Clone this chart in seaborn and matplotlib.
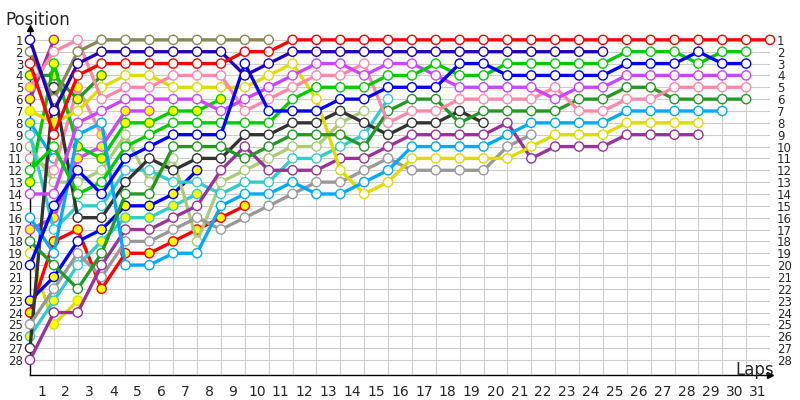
import matplotlib
matplotlib.use("Agg")
import matplotlib.pyplot as plt
import seaborn as sns
import pandas as pd

# position at the end of each lap, index 0 = starting grid
red_pos = [3, 9, 4, 3, 3, 3, 3, 3, 3, 2, 2, 1, 1, 1, 1, 1, 1, 1, 1, 1, 1, 1, 1, 1, 1, 1, 1, 1, 1, 1, 1, 1]
olive_pos = [2, 6, 2, 1, 1, 1, 1, 1, 1, 1, 1]
navy_pos = [1, 7, 3, 2, 2, 2, 2, 2, 2, 4, 3, 2, 2, 2, 2, 2, 2, 2, 2, 2, 2, 2, 2, 2, 2]
blue_pos = [20, 15, 12, 14, 11, 10, 9, 9, 9, 3, 7, 7, 7, 6, 6, 5, 5, 5, 3, 3, 4, 4, 4, 4, 4, 3, 3, 3, 2, 3, 3]
green_pos = [12, 10, 14, 13, 10, 9, 8, 8, 8, 8, 8, 6, 5, 5, 5, 4, 4, 3, 4, 4, 3, 3, 3, 3, 3, 2, 2, 2, 3, 2, 2]
violet_pos = [14, 14, 8, 7, 6, 6, 6, 6, 7, 6, 5, 4, 3, 3, 4, 3, 3, 4, 5, 5, 5, 5, 6, 5, 5, 4, 4, 4, 4, 4, 4]
pink_pos = [5, 2, 1, 6, 5, 5, 4, 4, 4, 7, 6, 5, 4, 4, 3, 8, 7, 7, 6, 6, 6, 6, 5, 7, 7, 6, 6, 5, 5, 5, 5]
dkgreen_pos = [18, 20, 22, 19, 14, 14, 10, 10, 10, 11, 10, 9, 9, 9, 10, 7, 6, 6, 8, 7, 7, 7, 7, 6, 6, 5, 5, 6, 6, 6, 6]
ltblue_pos = [16, 19, 9, 8, 20, 20, 19, 19, 15, 14, 14, 13, 14, 14, 13, 12, 10, 10, 10, 10, 9, 8, 8, 8, 8, 7, 7, 7, 7, 7]
yellow_pos = [7, 8, 7, 5, 4, 4, 5, 5, 5, 5, 4, 3, 6, 12, 14, 13, 11, 11, 11, 11, 11, 10, 9, 9, 9, 8, 8, 8, 8]
purple_pos = [28, 24, 24, 20, 17, 17, 16, 15, 12, 10, 12, 12, 12, 11, 11, 10, 9, 9, 9, 9, 8, 11, 10, 10, 10, 9, 9, 9, 9]
gray_pos = [25, 22, 19, 21, 18, 18, 17, 16, 17, 16, 15, 14, 13, 13, 12, 11, 12, 12, 12, 12, 10, 9]
dkgray_pos = [27, 5, 16, 16, 13, 11, 12, 11, 11, 9, 9, 8, 8, 7, 8, 9, 8, 8, 7, 8]
cyan_pos = [9, 17, 15, 15, 12, 12, 13, 13, 14, 13, 13, 11, 11, 10, 9, 6]
ltolive_pos = [10, 13, 13, 12, 9, 13, 11, 18, 13, 12, 11, 10, 10, 8, 7]
blue2_pos = [23, 21, 18, 17, 15, 15, 14, 12]
cyan2_pos = [26, 23, 20, 18, 16, 16, 15, 14]
red2_pos = [24, 18, 17, 22, 19, 19, 18, 17, 16, 15]
green2_pos = [13, 3, 10, 11, 8, 8, 7, 7, 6]
violet2_pos = [17, 16, 11, 10, 7, 7]
dkgreen2_pos = [4, 4, 6, 4]
pink2_pos = [11, 12, 5, 9]
yellow2_pos = [19, 25, 23]
purple2_pos = [6, 1]
ltblue2_pos = [8, 11]

# laps drawn with a yellow dot
pink_pits = [0]
yellow_pits = [0, 1]
yellow2_pits = [1, 2]
purple2_pits = [0, 1]
ltblue2_pits = [0]
dkgreen2_pits = [0, 1, 2, 3]
pink2_pits = [2, 3]
violet2_pits = [0, 1, 2, 3, 4, 5]
green2_pits = [0, 1, 2, 3, 4, 5, 6, 7, 8]
blue2_pits = [0, 1, 3, 4, 5, 6, 7]
cyan2_pits = [0, 1, 3, 4, 5, 6, 7]
red2_pits = [0, 1, 2, 3, 4, 5, 6, 7, 8, 9]

lap_labels = [str(i) for i in range(1, 32)]
pos_labels = [str(i) for i in range(1, 29)]

# drawn in this order, last one on top
cars = [
    ("purple2", "#993399", purple2_pos, purple2_pits),
    ("ltblue2", "#00aaff", ltblue2_pos, ltblue2_pits),
    ("yellow2", "#dddd00", yellow2_pos, yellow2_pits),
    ("pink2", "#ff88aa", pink2_pos, pink2_pits),
    ("dkgreen2", "#229922", dkgreen2_pos, dkgreen2_pits),
    ("violet2", "#cc44ff", violet2_pos, violet2_pits),
    ("green2", "#00cc00", green2_pos, green2_pits),
    ("red2", "#ff0000", red2_pos, red2_pits),
    ("cyan2", "#33cccc", cyan2_pos, cyan2_pits),
    ("blue2", "#0000ff", blue2_pos, blue2_pits),
    ("ltolive", "#aacc77", ltolive_pos, []),
    ("cyan", "#33cccc", cyan_pos, []),
    ("dkgray", "#333333", dkgray_pos, []),
    ("gray", "#999999", gray_pos, []),
    ("purple", "#993399", purple_pos, []),
    ("yellow", "#dddd00", yellow_pos, yellow_pits),
    ("ltblue", "#00aaff", ltblue_pos, []),
    ("dkgreen", "#229922", dkgreen_pos, []),
    ("pink", "#ff88aa", pink_pos, pink_pits),
    ("violet", "#cc44ff", violet_pos, []),
    ("green", "#00cc00", green_pos, []),
    ("blue", "#0000ff", blue_pos, []),
    ("olive", "#888855", olive_pos, []),
    ("navy", "#2200bb", navy_pos, []),
    ("red", "#ff0000", red_pos, []),
]

sns.set_style("white")
plt.rcParams['font.family'] = ['DejaVu Sans']

fig = plt.figure(figsize=(8, 4), dpi=100)
ax = fig.add_axes([0.0375, 0.0625, 0.925, 0.8675])
bottom = 29.27

# light grid: one row per position, one column per lap
for p in range(1, 29):
    ax.plot([0, 31], [p, p], color="#cccccc", lw=0.8, zorder=0)
for lap in range(1, 32):
    ax.plot([lap, lap], [1, bottom], color="#cccccc", lw=0.8, zorder=0)

for i, (name, col, pos, pits) in enumerate(cars):
    df = pd.DataFrame({"lap": range(len(pos)), "pos": pos})
    df["kind"] = ["pit" if l in pits else "run" for l in df["lap"]]
    sns.lineplot(data=df, x="lap", y="pos", color=col, linewidth=2.4, sort=False,
                 ax=ax, zorder=3 + 2 * i, clip_on=False)
    sns.scatterplot(data=df, x="lap", y="pos", hue="kind",
                    palette={"run": "white", "pit": "#ffff00"}, edgecolor=col,
                    linewidth=1.0, s=44, legend=False, ax=ax, zorder=4 + 2 * i, clip_on=False)

ax.set_xlim(0, 31)
ax.set_ylim(bottom, 0)
ax.set_xlabel("")
ax.set_ylabel("")
for s in ["top", "right"]:
    ax.spines[s].set_visible(False)
for s in ["left", "bottom"]:
    ax.spines[s].set_color("black")
    ax.spines[s].set_linewidth(1.0)

ax.set_xticks([l - 0.5 for l in range(1, 32)])
ax.set_xticklabels(lap_labels, fontsize=10)
ax.set_yticks(range(1, 29))
ax.set_yticklabels(pos_labels, fontsize=8.5)
ax.tick_params(axis="x", length=0, pad=7)
ax.tick_params(axis="y", length=0, pad=5, labelright=True)

# arrow heads at the ends of the two axes
ax.plot(0, 0, marker="^", color="black", markersize=5, clip_on=False, zorder=100)
ax.plot(31, bottom, marker=">", color="black", markersize=5, clip_on=False, zorder=100)

fig.text(5 / 800, 1 - 25 / 400, "Position", fontsize=12, va="baseline", ha="left")
fig.text(735 / 800, 1 - 375 / 400, "Laps", fontsize=12, va="baseline", ha="left")

fig.savefig("out.png", dpi=100)
